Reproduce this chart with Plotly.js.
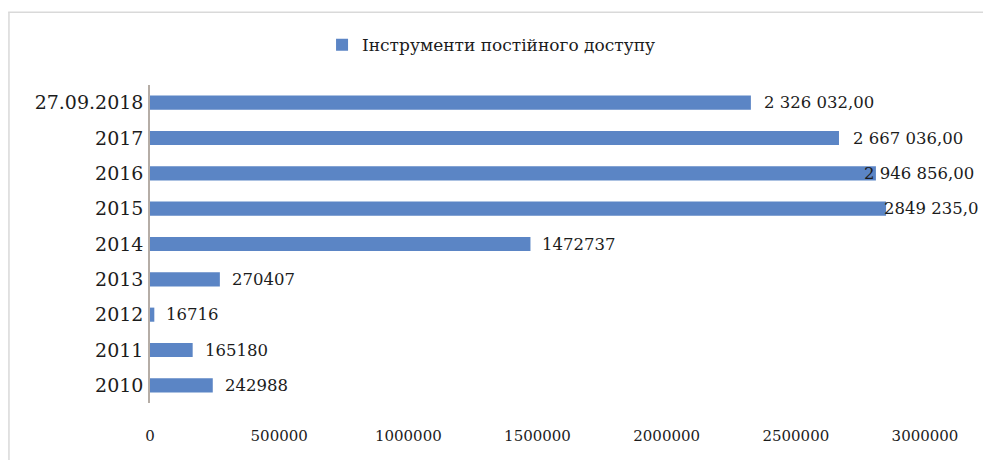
<!DOCTYPE html>
<html>
<head>
<meta charset="utf-8">
<script src="https://cdn.plot.ly/plotly-3.0.1.min.js"></script>
<style>html,body{margin:0;padding:0;background:#fff;}#chart{width:983px;height:460px;}</style>
</head>
<body>
<div id="chart"></div>
<script>
// Data (bottom to top)
const categories = ["2010", "2011", "2012", "2013", "2014", "2015", "2016", "2017", "27.09.2018"];
const values = [242988, 165180, 16716, 270407, 1472737, 2849235, 2810000, 2667036, 2326032];
const valueLabels = ["242988", "165180", "16716", "270407", "1472737", "2849 235,0", "2 946 856,00", "2 667 036,00", "2 326 032,00"];
const seriesName = "Інструменти постійного доступу";
const xTickVals = [0, 500000, 1000000, 1500000, 2000000, 2500000, 3000000];

// Style
const FONT = "DejaVu Serif";
const TXT = "#1c1c1c";
const barColor = "#5B85C5";
const labelNudge = [10, 10, 10, 10, 10, -4, -14, 12, 11];

const annotations = categories.map((c, i) => ({
  x: values[i], y: i, xref: "x", yref: "y",
  text: valueLabels[i], showarrow: false,
  xanchor: "left", yanchor: "middle", xshift: labelNudge[i],
  font: {family: FONT, size: 16.5, color: TXT}
}));

const trace = {
  type: "bar", orientation: "h",
  y: categories, x: values, name: seriesName,
  marker: {color: barColor}
};

const layout = {
  width: 983, height: 460,
  margin: {l: 150, r: 58, t: 85, b: 57},
  paper_bgcolor: "#ffffff", plot_bgcolor: "#ffffff",
  bargap: 0.6,
  font: {family: FONT, size: 16, color: TXT},
  showlegend: true,
  legend: {
    orientation: "h", x: 0.222, xanchor: "left", y: 1.125, yanchor: "middle",
    font: {family: FONT, size: 17, color: TXT},
    bgcolor: "rgba(0,0,0,0)"
  },
  xaxis: {
    range: [0, 3000000], tickvals: xTickVals, ticktext: xTickVals.map(String),
    showgrid: false, zeroline: false, showline: false, ticks: "",
    ticklabelstandoff: 22,
    tickfont: {family: FONT, size: 15, color: TXT}
  },
  yaxis: {
    type: "category",
    showgrid: false, zeroline: false, showline: true, linecolor: "#B5ADA6", linewidth: 1.5,
    ticks: "", ticklabelstandoff: 1,
    tickfont: {family: FONT, size: 19, color: TXT}
  },
  annotations: annotations,
  shapes: [
    {type: "line", xref: "paper", yref: "paper", x0: -0.183, x1: 1.08, y0: 1.229, y1: 1.229, line: {color: "#D9D9D9", width: 1.5}},
    {type: "line", xref: "paper", yref: "paper", x0: -0.182, x1: -0.182, y0: 1.229, y1: -0.2, line: {color: "#D9D9D9", width: 1.5}}
  ]
};

Plotly.newPlot("chart", [trace], layout, {displayModeBar: false});
</script>
</body>
</html>
